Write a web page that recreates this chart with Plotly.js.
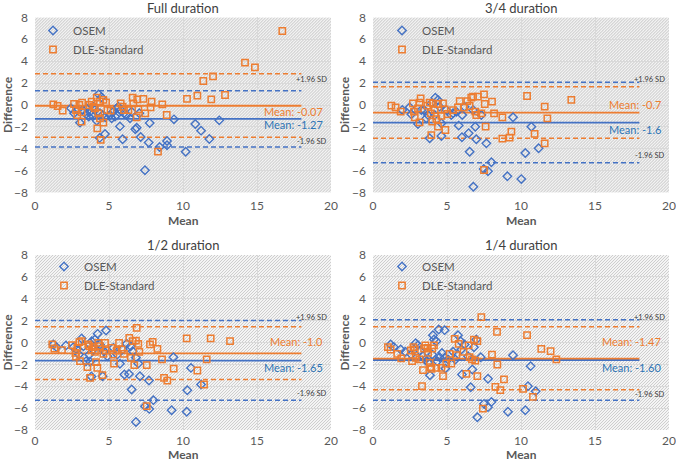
<!DOCTYPE html>
<html><head><meta charset="utf-8">
<script src="https://cdn.plot.ly/plotly-3.0.1.min.js"></script>
<style>html,body{margin:0;padding:0;background:#fff}#chart{width:676px;height:462px}</style>
</head><body><div id="chart"></div>
<script>
// ---------- DATA ----------
const panelTitles = ['Full duration', '3/4 duration', '1/2 duration', '1/4 duration'];
const seriesNames = ['OSEM', 'DLE-Standard'];

// Full duration
const fullOsemX = [2.43,2.64,3.04,3.22,3.45,3.63,3.72,3.94,4.30,4.50,4.39,4.57,4.75,4.73,5.07,5.29,5.52,5.63,5.74,5.79,6.01,6.19,6.53,6.78,6.87,7.05,7.14,5.92,4.37,7.75,7.68,7.43,8.42,8.92,8.92,9.39,10.18,10.83,11.22,11.78,12.45,4.17,3.83,5.18,5.41,6.42,4.05,3.49,2.86,5.52];
const fullOsemY = [-0.30,-0.76,-1.61,-0.46,-0.82,-1.06,-0.61,-0.15,0.97,0.70,-0.76,-0.91,-1.12,-2.64,-0.91,-0.61,-0.91,-0.15,-1.95,-0.46,-0.76,-0.91,-0.61,-2.22,-2.07,-0.76,-2.92,-3.13,-3.0,-1.64,-3.43,-5.96,-3.83,-3.28,-3.68,-1.31,-4.26,-1.73,-2.34,-3.10,-1.40,-1.43,-0.91,-1.22,-1.06,-1.22,-0.46,-0.30,-0.46,-0.30];
const fullDleX = [1.24,1.53,1.87,2.64,2.77,2.86,3.0,3.18,3.15,3.15,3.67,3.83,3.94,4.05,4.17,4.21,4.28,4.39,4.39,4.44,4.62,4.62,4.80,4.89,5.11,5.79,5.92,6.01,6.31,6.60,6.64,6.91,6.98,6.87,7.32,7.45,7.81,7.88,8.60,8.31,8.90,10.27,10.97,11.37,11.91,12.03,12.84,14.19,14.86,16.71];
const fullDleY = [0.06,-0.09,-0.52,0.09,-0.46,-0.91,0.0,0.21,-0.67,-1.52,0.0,0.30,-0.15,-0.30,0.67,-2.13,-0.76,0.30,-1.22,-3.19,0.46,-1.61,0.24,-0.46,-0.52,0.15,-0.15,-0.46,-0.46,0.67,0.15,0.52,-0.40,-1.12,0.55,-0.76,-0.21,0.30,0.06,-4.26,-0.91,0.55,0.85,2.19,0.52,2.61,0.91,3.86,3.43,6.75];

// 3/4 duration
const q3OsemX = [1.98,2.48,2.59,3.04,3.27,3.45,3.60,3.72,3.83,3.94,4.21,4.39,4.50,4.62,4.62,4.17,4.95,5.29,5.41,5.63,5.79,6.03,6.01,6.19,6.46,6.53,6.76,6.91,6.98,7.66,6.78,7.48,7.77,8.0,9.08,9.46,10.02,10.29,10.70,11.19,7.32];
const q3OsemY = [-0.46,-0.21,-0.85,-1.73,-0.46,-0.46,-1.22,-0.91,-3.04,0.15,0.67,0.46,-0.15,-1.67,-2.83,-0.91,-0.46,-0.91,-0.76,-0.61,-1.88,-0.91,-2.95,-0.15,-2.58,-4.26,-0.46,-1.98,-3.13,-3.50,-7.45,-5.84,-6.05,-5.22,-6.50,-1.12,-6.76,-4.38,-1.98,-3.95,-0.91];
const q3DleX = [1.24,1.53,1.87,2.70,2.77,2.82,3.04,3.15,3.22,3.15,3.67,3.83,3.90,3.94,4.0,4.05,4.17,4.28,4.39,4.39,4.62,4.73,4.84,4.89,5.02,5.41,5.74,5.86,6.14,6.37,6.53,6.64,6.76,6.91,6.98,7.09,7.32,7.50,7.55,7.61,7.50,8.04,8.18,8.74,8.74,9.23,9.35,10.41,10.92,11.60,11.60,11.78,13.40];
const q3DleY = [-0.06,-0.21,-0.61,0.15,-0.61,-1.12,-0.30,0.21,0.61,-1.58,-0.06,0.21,-0.76,-2.74,-1.52,0.15,-0.46,-1.28,0.09,-1.98,-1.0,0.15,-0.40,-2.28,-0.82,-0.46,-0.21,0.36,-0.24,0.36,-0.09,0.67,0.76,-0.61,-0.91,0.76,-0.76,0.97,0.09,-1.98,-5.93,0.30,-0.76,-1.12,-3.07,-2.98,-2.43,0.82,-2.64,-3.50,-0.15,-1.22,0.46];

// 1/2 duration
const halfOsemX = [1.24,1.46,2.09,2.59,2.82,2.97,3.15,3.27,3.45,3.67,3.72,3.81,3.83,3.94,4.05,4.23,4.39,4.50,4.57,4.66,4.80,4.89,5.29,5.56,5.74,5.92,6.04,6.19,6.35,6.46,6.53,6.60,6.82,6.98,7.09,6.82,7.43,7.72,7.70,8.0,9.23,9.35,10.25,10.29,10.54,11.22];
const halfOsemY = [-0.18,-0.43,-0.27,-0.43,-0.64,-1.10,0.37,-0.34,-1.71,-1.10,-1.77,-3.11,0.12,-0.64,0.27,0.79,-0.18,-0.49,-3.08,-0.79,1.10,-1.25,-0.49,-1.10,-1.95,-0.64,-2.93,-0.12,-2.87,-0.34,-4.30,-0.79,-1.40,-1.92,-3.08,-7.26,-5.82,-6.07,-3.48,-5.27,-6.19,-1.34,-6.34,-4.36,-2.32,-3.84];
const halfDleX = [1.17,1.31,1.82,2.50,2.73,2.77,2.86,3.0,3.04,3.15,3.54,3.60,3.67,3.72,3.83,3.94,4.05,4.12,4.21,4.28,4.39,4.55,4.62,4.73,4.77,5.18,5.29,5.34,5.52,5.68,5.86,6.01,6.37,6.48,6.60,6.71,6.82,6.87,6.98,7.05,7.55,7.55,7.77,7.95,8.27,8.58,8.72,8.94,9.37,10.25,10.97,11.42,11.60,11.87,13.18];
const halfDleY = [-0.18,-0.55,-0.70,-0.24,-0.95,-1.28,-0.49,0.03,-1.71,0.12,-2.26,-0.18,-0.34,-3.23,-0.64,-0.43,-0.85,-1.80,-2.32,-0.03,-0.34,-2.99,-1.04,-0.03,-0.73,-0.49,-1.10,-1.92,-0.73,-0.03,-0.64,-1.04,0.43,-1.40,0.12,-2.07,0.18,1.34,-0.12,-0.85,-2.07,-5.82,-0.18,0.06,-0.58,-1.55,-3.23,-3.48,-2.38,0.37,-2.56,-3.84,-1.55,0.37,0.12];

// 1/4 duration
const quarterOsemX = [1.19,1.40,1.87,2.18,2.59,2.88,3.04,3.15,3.38,3.54,3.72,3.85,4.0,4.05,4.12,4.28,4.35,4.44,4.50,4.66,4.84,4.84,4.89,5.07,5.56,5.74,5.92,5.97,6.01,6.19,6.42,6.60,6.71,6.82,7.05,7.28,7.50,7.77,7.77,8.0,9.12,9.46,10.29,10.47,10.65,10.99,6.98,5.41];
const quarterOsemY = [-0.18,-0.40,-0.64,-0.85,-1.10,-0.06,-0.24,-0.73,-1.25,-1.55,-1.86,-2.99,-1.10,0.67,0.27,0.12,-1.71,1.19,-1.34,-0.95,1.13,-1.40,-2.38,-1.55,-1.55,0.67,0.12,-0.64,-2.93,-0.18,-1.25,-4.09,-2.47,-0.43,-6.83,-1.34,-5.61,-5.91,-3.32,-5.43,-6.34,-1.16,-6.19,-3.99,-2.16,-4.45,0.27,-0.85];
const quarterDleX = [1.01,1.19,1.64,1.91,2.55,2.64,2.73,2.82,2.88,3.15,3.31,3.38,3.45,3.54,3.67,3.72,3.83,3.90,3.94,4.0,4.12,4.28,4.62,4.73,4.95,5.18,5.29,5.52,5.63,5.79,6.12,6.31,6.46,6.53,6.69,6.82,6.91,7.05,7.05,7.32,7.43,8.04,8.27,8.38,8.40,8.60,8.85,10.14,10.41,10.81,11.37,12.0,12.39];
const quarterDleY = [-0.43,-0.64,-1.04,-1.46,-0.73,-1.71,-0.43,-0.64,-1.40,-1.55,-3.99,-2.53,-0.55,-0.27,-0.49,-0.95,-1.86,-2.26,-2.41,-0.55,-0.27,-2.32,-2.32,-3.08,-1.92,-1.04,-1.92,0.34,-1.16,-0.12,-0.85,-2.87,-0.27,-1.34,-1.55,0.27,-1.65,0.12,-3.08,2.32,-6.04,-1.10,-4.05,0.98,-2.01,-4.36,-3.38,-4.24,0.67,-4.97,-0.58,-0.79,-1.55];

// Bland-Altman statistics per panel (full, 3/4, 1/2, 1/4)
const osemMeanDiff = [-1.27, -1.6, -1.65, -1.60];
const osemUpperLoA = [1.30, 2.07, 2.01, 2.07];
const osemLowerLoA = [-3.84, -5.26, -5.27, -5.27];
const dleMeanDiff = [-0.07, -0.7, -1.0, -1.47];
const dleUpperLoA = [2.86, 1.67, 1.43, 1.43];
const dleLowerLoA = [-2.95, -3.04, -3.38, -4.33];
const osemMeanLabels = ['Mean: -1.27', 'Mean: -1.6', 'Mean: -1.65', 'Mean: -1.60'];
const dleMeanLabels = ['Mean: -0.07', 'Mean: -0.7', 'Mean: -1.0', 'Mean: -1.47'];
const sdLabels = ['+1.96 SD', '-1.96 SD'];
const xTicks = [0, 5, 10, 15, 20];
const yTicks = [-8, -6, -4, -2, 0, 2, 4, 6, 8];
const lineExtent = [0, 18];

const osemX = [fullOsemX, q3OsemX, halfOsemX, quarterOsemX];
const osemY = [fullOsemY, q3OsemY, halfOsemY, quarterOsemY];
const dleX = [fullDleX, q3DleX, halfDleX, quarterDleX];
const dleY = [fullDleY, q3DleY, halfDleY, quarterDleY];

// ---------- STYLE / LAYOUT ----------
const W = 676, H = 462;
const BLUE = '#4472C4', ORANGE = '#ED7D31', BLUE_TXT = '#2E75B6';
const FONT = 'Lato, "Open Sans", sans-serif';
const xDomains = [[35/W, 331/W], [373/W, 669/W], [35/W, 331/W], [373/W, 669/W]];
const yDomains = [[1-192.7/H, 1-17.3/H], [1-192.7/H, 1-17.3/H], [1-430/H, 1-255/H], [1-430/H, 1-255/H]];
// label y positions (data units) for mean / SD annotations
const dleLabelY = [-0.55, 0.05, 0.06, 0.06];
const osemLabelY = [-1.80, -2.28, -2.32, -2.32];
const sdUpLabelY = [2.34, 2.34, 2.32, 2.32];
const sdLowLabelY = [-3.34, -4.62, -4.70, -4.76];
const legendPos = [[33, 16], [382, 16], [44, 252], [382, 252]];

const hatchSvg = "<svg xmlns='http://www.w3.org/2000/svg' width='296' height='175' preserveAspectRatio='none'>" +
  "<defs><pattern id='h' width='3' height='3' patternUnits='userSpaceOnUse'>" +
  "<path d='M-1,1 l2,-2 M0,3 l3,-3 M2,4 l2,-2' stroke='#c9c9c9' stroke-width='0.9'/></pattern></defs>" +
  "<rect width='296' height='175' fill='#f4f4f4'/><rect width='296' height='175' fill='url(#h)'/></svg>";
const hatchSrc = 'data:image/svg+xml;charset=utf-8,' + encodeURIComponent(hatchSvg);

const traces = [];
const layout = {
  width: W, height: H,
  margin: {l: 0, r: 0, t: 0, b: 0},
  paper_bgcolor: '#ffffff', plot_bgcolor: '#ffffff',
  font: {family: FONT, color: '#595959', size: 12},
  showlegend: true,
  annotations: [], images: [], shapes: []
};

for (let p = 0; p < 4; p++) {
  const sfx = p === 0 ? '' : String(p + 1);
  const xa = 'x' + sfx, ya = 'y' + sfx;
  const lg = p === 0 ? 'legend' : 'legend' + (p + 1);
  const isBottom = p >= 2;

  const lineSpecs = [
    [dleUpperLoA[p], ORANGE, 'dash', 1.5],
    [dleLowerLoA[p], ORANGE, 'dash', 1.5],
    [osemUpperLoA[p], BLUE, 'dash', 1.5],
    [osemLowerLoA[p], BLUE, 'dash', 1.5],
    [osemMeanDiff[p], BLUE, 'solid', 1.8],
    [dleMeanDiff[p], ORANGE, 'solid', 1.8]
  ];
  lineSpecs.forEach(([v, c, d, w]) => {
    traces.push({
      type: 'scatter', mode: 'lines', xaxis: xa, yaxis: ya,
      x: lineExtent, y: [v, v], showlegend: false, hoverinfo: 'skip',
      line: {color: c, width: w, dash: d === 'dash' ? '5px,3px' : 'solid'}
    });
  });

  traces.push({
    type: 'scatter', mode: 'markers', name: seriesNames[0], xaxis: xa, yaxis: ya, legend: lg,
    x: osemX[p], y: osemY[p],
    marker: {symbol: 'diamond-open', size: 6.5, color: BLUE, line: {width: 1.4, color: BLUE}}
  });
  traces.push({
    type: 'scatter', mode: 'markers', name: seriesNames[1], xaxis: xa, yaxis: ya, legend: lg,
    x: dleX[p], y: dleY[p],
    marker: {symbol: 'square-open', size: 6.3, color: ORANGE, line: {width: 1.5, color: ORANGE}}
  });

  const axX = {
    domain: xDomains[p], anchor: ya, range: [xTicks[0], xTicks[xTicks.length-1]],
    tickvals: xTicks, showgrid: true, gridcolor: '#d9d9d9', gridwidth: 1,
    zeroline: false, showline: false, ticks: '', ticklabelstandoff: isBottom ? 2 : 4,
    tickfont: {size: 12, color: '#595959', family: FONT}, fixedrange: true
  };
  const axY = {
    domain: yDomains[p], anchor: xa, range: [yTicks[0], yTicks[yTicks.length-1]],
    tickvals: yTicks, showgrid: true, gridcolor: '#d9d9d9', gridwidth: 1,
    zeroline: false, showline: false, ticks: '', ticklabelstandoff: 6,
    tickfont: {size: 12, color: '#595959', family: FONT}, fixedrange: true
  };
  layout['xaxis' + sfx] = axX;
  layout['yaxis' + sfx] = axY;

  layout.images.push({
    source: hatchSrc, xref: xa, yref: ya, x: xTicks[0], y: yTicks[yTicks.length-1],
    sizex: xTicks[xTicks.length-1] - xTicks[0], sizey: yTicks[yTicks.length-1] - yTicks[0],
    sizing: 'stretch', layer: 'below', xanchor: 'left', yanchor: 'top'
  });

  layout[lg] = {
    x: legendPos[p][0] / W, y: 1 - legendPos[p][1] / H, xanchor: 'left', yanchor: 'top',
    bgcolor: 'rgba(0,0,0,0)', borderwidth: 0, traceorder: 'normal',
    font: {size: 11.5, color: '#595959', family: FONT}, tracegroupgap: 0
  };

  const cx = (xDomains[p][0] + xDomains[p][1]) / 2;
  const cy = (yDomains[p][0] + yDomains[p][1]) / 2;
  const topPx = isBottom ? 245 : 8;
  const leftPx = p % 2 === 0 ? 7 : 344;
  const meanTitle = isBottom
    ? {text: '<b>Mean</b>', xref: 'paper', yref: 'paper', x: cx, y: 0, showarrow: false, height: 13,
       borderpad: 0, xanchor: 'center', yanchor: 'bottom', font: {size: 12, color: '#595959', family: FONT}}
    : {text: '<b>Mean</b>', xref: 'paper', yref: 'paper', x: cx, y: 1 - 221 / H, showarrow: false,
       xanchor: 'center', yanchor: 'middle', font: {size: 12, color: '#595959', family: FONT}};
  layout.annotations.push(
    {text: panelTitles[p], xref: 'paper', yref: 'paper', x: cx, y: 1 - topPx / H, showarrow: false,
     xanchor: 'center', yanchor: 'middle', font: {size: 13, color: '#404040', family: FONT}},
    meanTitle,
    {text: '<b>Difference</b>', xref: 'paper', yref: 'paper', x: leftPx / W, y: cy, showarrow: false,
     textangle: -90, xanchor: 'center', yanchor: 'middle', font: {size: 12, color: '#595959', family: FONT}},
    {text: dleMeanLabels[p], xref: xa, yref: ya, x: 19.6, y: dleLabelY[p], showarrow: false,
     xanchor: 'right', yanchor: 'middle', font: {size: 11, color: ORANGE, family: FONT}},
    {text: osemMeanLabels[p], xref: xa, yref: ya, x: 19.6, y: osemLabelY[p], showarrow: false,
     xanchor: 'right', yanchor: 'middle', font: {size: 11, color: BLUE_TXT, family: FONT}},
    {text: sdLabels[0], xref: xa, yref: ya, x: 19.85, y: sdUpLabelY[p], showarrow: false,
     xanchor: 'right', yanchor: 'middle', font: {size: 7.5, color: '#404040', family: FONT}},
    {text: sdLabels[1], xref: xa, yref: ya, x: 19.85, y: sdLowLabelY[p], showarrow: false,
     xanchor: 'right', yanchor: 'middle', font: {size: 7.5, color: '#404040', family: FONT}}
  );
}

Plotly.newPlot('chart', traces, layout, {staticPlot: true, displayModeBar: false});
</script>
</body></html>
